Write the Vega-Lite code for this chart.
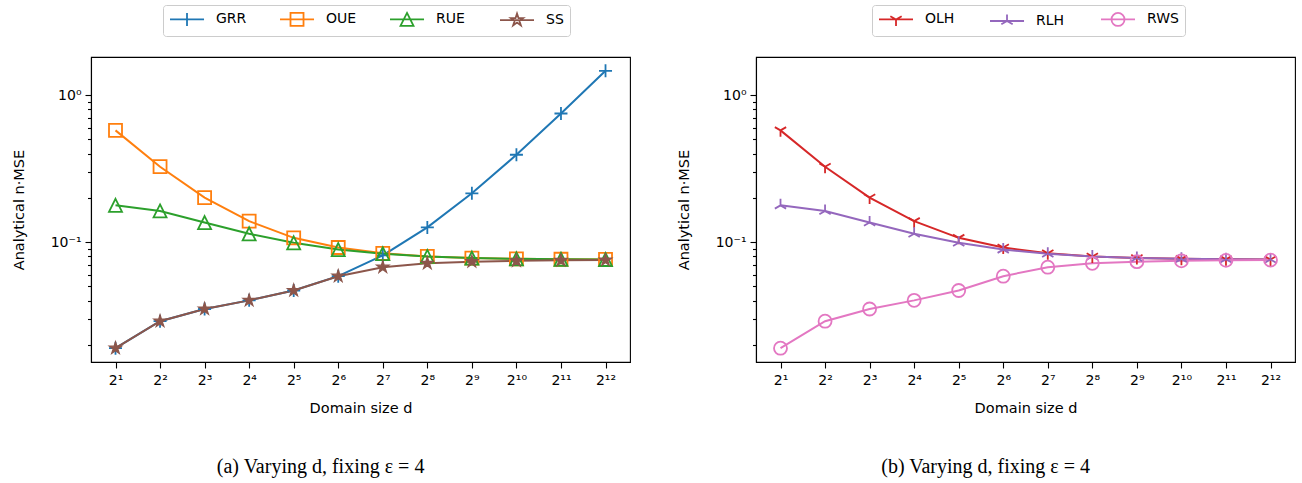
{
  "$schema": "https://vega.github.io/schema/vega-lite/v6.json",
  "padding": {"left": 10, "top": 3, "right": 5, "bottom": 5},
  "background": "white",
  "config": {
    "font": "DejaVu Sans",
    "view": {"stroke": "black", "strokeWidth": 1.1},
    "axis": {
      "domainColor": "black", "domainWidth": 1.1, "tickColor": "black", "tickWidth": 1.1,
      "labelColor": "black", "titleColor": "black", "labelFont": "DejaVu Sans", "titleFont": "DejaVu Sans",
      "labelFontSize": 14, "titleFontSize": 14.5, "titleFontWeight": "normal", "grid": false,
      "labelOverlap": false, "labelFlush": false
    }
  },
  "datasets": {
    "a": [
      {"s": "GRR", "d": 2, "v": 0.0190}, {"s": "GRR", "d": 4, "v": 0.0290}, {"s": "GRR", "d": 8, "v": 0.0351},
      {"s": "GRR", "d": 16, "v": 0.0402}, {"s": "GRR", "d": 32, "v": 0.0469}, {"s": "GRR", "d": 64, "v": 0.0587},
      {"s": "GRR", "d": 128, "v": 0.0812}, {"s": "GRR", "d": 256, "v": 0.126}, {"s": "GRR", "d": 512, "v": 0.215},
      {"s": "GRR", "d": 1024, "v": 0.393}, {"s": "GRR", "d": 2048, "v": 0.750}, {"s": "GRR", "d": 4096, "v": 1.463},
      {"s": "OUE", "d": 2, "v": 0.576}, {"s": "OUE", "d": 4, "v": 0.326}, {"s": "OUE", "d": 8, "v": 0.201},
      {"s": "OUE", "d": 16, "v": 0.139}, {"s": "OUE", "d": 32, "v": 0.107}, {"s": "OUE", "d": 64, "v": 0.092},
      {"s": "OUE", "d": 128, "v": 0.084}, {"s": "OUE", "d": 256, "v": 0.080}, {"s": "OUE", "d": 512, "v": 0.078},
      {"s": "OUE", "d": 1024, "v": 0.077}, {"s": "OUE", "d": 2048, "v": 0.0765}, {"s": "OUE", "d": 4096, "v": 0.0763},
      {"s": "RUE", "d": 2, "v": 0.178}, {"s": "RUE", "d": 4, "v": 0.163}, {"s": "RUE", "d": 8, "v": 0.136},
      {"s": "RUE", "d": 16, "v": 0.114}, {"s": "RUE", "d": 32, "v": 0.099}, {"s": "RUE", "d": 64, "v": 0.089},
      {"s": "RUE", "d": 128, "v": 0.0835}, {"s": "RUE", "d": 256, "v": 0.080}, {"s": "RUE", "d": 512, "v": 0.078},
      {"s": "RUE", "d": 1024, "v": 0.077}, {"s": "RUE", "d": 2048, "v": 0.0765}, {"s": "RUE", "d": 4096, "v": 0.0762},
      {"s": "SS", "d": 2, "v": 0.0190}, {"s": "SS", "d": 4, "v": 0.0290}, {"s": "SS", "d": 8, "v": 0.0351},
      {"s": "SS", "d": 16, "v": 0.0402}, {"s": "SS", "d": 32, "v": 0.0469}, {"s": "SS", "d": 64, "v": 0.0587},
      {"s": "SS", "d": 128, "v": 0.0676}, {"s": "SS", "d": 256, "v": 0.0718}, {"s": "SS", "d": 512, "v": 0.0737},
      {"s": "SS", "d": 1024, "v": 0.0747}, {"s": "SS", "d": 2048, "v": 0.0752}, {"s": "SS", "d": 4096, "v": 0.0755}
    ],
    "b": [
      {"s": "OLH", "d": 2, "v": 0.576}, {"s": "OLH", "d": 4, "v": 0.326}, {"s": "OLH", "d": 8, "v": 0.201},
      {"s": "OLH", "d": 16, "v": 0.139}, {"s": "OLH", "d": 32, "v": 0.107}, {"s": "OLH", "d": 64, "v": 0.092},
      {"s": "OLH", "d": 128, "v": 0.084}, {"s": "OLH", "d": 256, "v": 0.080}, {"s": "OLH", "d": 512, "v": 0.078},
      {"s": "OLH", "d": 1024, "v": 0.077}, {"s": "OLH", "d": 2048, "v": 0.0765}, {"s": "OLH", "d": 4096, "v": 0.0763},
      {"s": "RLH", "d": 2, "v": 0.178}, {"s": "RLH", "d": 4, "v": 0.163}, {"s": "RLH", "d": 8, "v": 0.136},
      {"s": "RLH", "d": 16, "v": 0.114}, {"s": "RLH", "d": 32, "v": 0.099}, {"s": "RLH", "d": 64, "v": 0.089},
      {"s": "RLH", "d": 128, "v": 0.0835}, {"s": "RLH", "d": 256, "v": 0.080}, {"s": "RLH", "d": 512, "v": 0.078},
      {"s": "RLH", "d": 1024, "v": 0.077}, {"s": "RLH", "d": 2048, "v": 0.0765}, {"s": "RLH", "d": 4096, "v": 0.0762},
      {"s": "RWS", "d": 2, "v": 0.0190}, {"s": "RWS", "d": 4, "v": 0.0290}, {"s": "RWS", "d": 8, "v": 0.0351},
      {"s": "RWS", "d": 16, "v": 0.0402}, {"s": "RWS", "d": 32, "v": 0.0469}, {"s": "RWS", "d": 64, "v": 0.0587},
      {"s": "RWS", "d": 128, "v": 0.0676}, {"s": "RWS", "d": 256, "v": 0.0718}, {"s": "RWS", "d": 512, "v": 0.0737},
      {"s": "RWS", "d": 1024, "v": 0.0747}, {"s": "RWS", "d": 2048, "v": 0.0752}, {"s": "RWS", "d": 4096, "v": 0.0755}
    ]
  },
  "spacing": 44,
  "resolve": {"scale": {"color": "independent", "shape": "independent"}},
  "hconcat": [
    {
      "width": 539, "height": 305,
      "data": {"name": "a"},
      "title": {"text": "(a) Varying d, fixing ε = 4", "orient": "bottom", "frame": "bounds", "font": "Liberation Serif", "fontSize": 20, "fontWeight": "normal", "color": "black", "anchor": "middle", "offset": 42},
      "encoding": {
        "x": {"field": "d", "type": "quantitative", "scale": {"type": "log", "base": 2, "domain": [1.366, 5995], "nice": false},
          "axis": {"title": "Domain size d", "values": [2,4,8,16,32,64,128,256,512,1024,2048,4096],
            "labelExpr": "'2' + ['⁰','¹','²','³','⁴','⁵','⁶','⁷','⁸','⁹','¹⁰','¹¹','¹²'][round(log(datum.value)/LN2)]",
            "tickSize": 6, "labelPadding": 5, "titlePadding": 14}},
        "y": {"field": "v", "type": "quantitative", "scale": {"type": "log", "domain": [0.01531, 1.817], "nice": false},
          "axis": {"title": "Analytical n·MSE", "values": [0.02,0.03,0.04,0.05,0.06,0.07,0.08,0.09,0.1,0.2,0.3,0.4,0.5,0.6,0.7,0.8,0.9,1],
            "labelExpr": "abs(datum.value - 1) < 1e-9 ? '10⁰' : abs(datum.value - 0.1) < 1e-9 ? '10⁻¹' : ''",
            "tickSize": {"condition": {"test": "abs(datum.value - 1) < 1e-9 || abs(datum.value - 0.1) < 1e-9", "value": 6}, "value": 3.5},
            "labelPadding": 4, "titlePadding": 24}}
      },
      "layer": [
        {"mark": {"type": "line", "strokeWidth": 2},
          "encoding": {"color": {"field": "s", "type": "nominal",
            "scale": {"domain": ["GRR", "OUE", "RUE", "SS"], "range": ["#1f77b4", "#ff7f0e", "#2ca02c", "#8c564b"]},
            "legend": {"orient": "none", "legendX": 72, "legendY": -52, "direction": "horizontal", "columns": 4, "title": null,
              "strokeColor": "#cccccc", "fillColor": "white", "cornerRadius": 3, "padding": 6,
              "symbolSize": 196, "symbolStrokeWidth": 1.8, "labelFontSize": 14, "labelColor": "black", "labelOffset": 31,
              "columnPadding": 29, "gridAlign": "all"}}}},
        {"transform": [{"filter": "false"}],
          "mark": {"type": "point", "filled": false, "size": 196, "strokeWidth": 1.8, "opacity": 1},
          "encoding": {
            "color": {"field": "s", "type": "nominal",
              "scale": {"domain": ["GRR", "OUE", "RUE", "SS"], "range": ["#1f77b4", "#ff7f0e", "#2ca02c", "#8c564b"]},
              "legend": {"orient": "none", "legendX": 72, "legendY": -52, "direction": "horizontal", "columns": 4, "title": null,
                "strokeColor": "#cccccc", "fillColor": "white", "cornerRadius": 3, "padding": 6,
                "symbolSize": 196, "symbolStrokeWidth": 1.8, "labelFontSize": 14, "labelColor": "black", "labelOffset": 31,
                "columnPadding": 29, "gridAlign": "all"}},
            "shape": {"field": "s", "type": "nominal",
              "scale": {"domain": ["GRR", "OUE", "RUE", "SS"], "range": [
                "M-1,0H3.86M1.43,-0.93V0.93",
                "M-1,0H3.86M0.5,-0.93H2.36V0.93H0.5Z",
                "M-1,0H3.86M1.43,-0.93L2.36,0.93H0.5Z",
                "M-1,0H3.86M1.43,-0.93L1.64,-0.29L2.31,-0.29L1.77,0.11L1.98,0.75L1.43,0.36L0.88,0.75L1.09,0.11L0.55,-0.29L1.22,-0.29Z"]},
              "legend": {"orient": "none", "legendX": 72, "legendY": -52, "direction": "horizontal", "columns": 4, "title": null,
                "strokeColor": "#cccccc", "fillColor": "white", "cornerRadius": 3, "padding": 6,
                "symbolSize": 196, "symbolStrokeWidth": 1.8, "labelFontSize": 14, "labelColor": "black", "labelOffset": 31,
                "columnPadding": 29, "gridAlign": "all"}},
            "fill": {"condition": {"test": "datum.s === 'SS'", "value": "#8c564b"}, "value": "transparent"}
          }},
        {"transform": [{"filter": "datum.s === 'GRR'"}],
          "mark": {"type": "point", "shape": "M-1,0H1M0,-1V1", "filled": false, "stroke": "#1f77b4", "fill": "transparent", "size": 169, "strokeWidth": 1.8, "opacity": 1}},
        {"transform": [{"filter": "datum.s === 'OUE'"}],
          "mark": {"type": "point", "shape": "M-1,-1H1V1H-1Z", "filled": false, "stroke": "#ff7f0e", "fill": "transparent", "size": 169, "strokeWidth": 1.8, "opacity": 1}},
        {"transform": [{"filter": "datum.s === 'RUE'"}],
          "mark": {"type": "point", "shape": "M0,-1L1,1H-1Z", "filled": false, "stroke": "#2ca02c", "fill": "transparent", "size": 169, "strokeWidth": 1.8, "opacity": 1}},
        {"transform": [{"filter": "datum.s === 'SS'"}],
          "mark": {"type": "point", "shape": "M0,-1L0.22,-0.31L0.95,-0.31L0.36,0.12L0.59,0.81L0,0.38L-0.59,0.81L-0.36,0.12L-0.95,-0.31L-0.22,-0.31Z", "filled": true, "fill": "#8c564b", "stroke": "#8c564b", "size": 169, "strokeWidth": 1.2, "opacity": 1}}
      ]
    },
    {
      "width": 539, "height": 305,
      "data": {"name": "b"},
      "title": {"text": "(b) Varying d, fixing ε = 4", "orient": "bottom", "frame": "bounds", "font": "Liberation Serif", "fontSize": 20, "fontWeight": "normal", "color": "black", "anchor": "middle", "offset": 42},
      "encoding": {
        "x": {"field": "d", "type": "quantitative", "scale": {"type": "log", "base": 2, "domain": [1.366, 5995], "nice": false},
          "axis": {"title": "Domain size d", "values": [2,4,8,16,32,64,128,256,512,1024,2048,4096],
            "labelExpr": "'2' + ['⁰','¹','²','³','⁴','⁵','⁶','⁷','⁸','⁹','¹⁰','¹¹','¹²'][round(log(datum.value)/LN2)]",
            "tickSize": 6, "labelPadding": 5, "titlePadding": 14}},
        "y": {"field": "v", "type": "quantitative", "scale": {"type": "log", "domain": [0.01531, 1.817], "nice": false},
          "axis": {"title": "Analytical n·MSE", "values": [0.02,0.03,0.04,0.05,0.06,0.07,0.08,0.09,0.1,0.2,0.3,0.4,0.5,0.6,0.7,0.8,0.9,1],
            "labelExpr": "abs(datum.value - 1) < 1e-9 ? '10⁰' : abs(datum.value - 0.1) < 1e-9 ? '10⁻¹' : ''",
            "tickSize": {"condition": {"test": "abs(datum.value - 1) < 1e-9 || abs(datum.value - 0.1) < 1e-9", "value": 6}, "value": 3.5},
            "labelPadding": 4, "titlePadding": 24}}
      },
      "layer": [
        {"mark": {"type": "line", "strokeWidth": 2},
          "encoding": {"color": {"field": "s", "type": "nominal",
            "scale": {"domain": ["OLH", "RLH", "RWS"], "range": ["#d62728", "#9467bd", "#e377c2"]},
            "legend": {"orient": "none", "legendX": 116, "legendY": -52, "direction": "horizontal", "columns": 3, "title": null,
              "strokeColor": "#cccccc", "fillColor": "white", "cornerRadius": 3, "padding": 6,
              "symbolSize": 196, "symbolStrokeWidth": 1.8, "labelFontSize": 14, "labelColor": "black", "labelOffset": 31,
              "columnPadding": 29, "gridAlign": "all"}}}},
        {"transform": [{"filter": "false"}],
          "mark": {"type": "point", "filled": false, "size": 196, "strokeWidth": 1.8, "opacity": 1},
          "encoding": {
            "color": {"field": "s", "type": "nominal",
              "scale": {"domain": ["OLH", "RLH", "RWS"], "range": ["#d62728", "#9467bd", "#e377c2"]},
              "legend": {"orient": "none", "legendX": 116, "legendY": -52, "direction": "horizontal", "columns": 3, "title": null,
                "strokeColor": "#cccccc", "fillColor": "white", "cornerRadius": 3, "padding": 6,
                "symbolSize": 196, "symbolStrokeWidth": 1.8, "labelFontSize": 14, "labelColor": "black", "labelOffset": 31,
                "columnPadding": 29, "gridAlign": "all"}},
            "shape": {"field": "s", "type": "nominal",
              "scale": {"domain": ["OLH", "RLH", "RWS"], "range": [
                "M-1,0H3.86M1.43,0V0.93M1.43,0L0.62,-0.47M1.43,0L2.24,-0.47",
                "M-1,0H3.86M1.43,0V-0.93M1.43,0L0.62,0.47M1.43,0L2.24,0.47",
                "M-1,0H3.86M2.36,0A0.93,0.93,0,1,1,0.5,0A0.93,0.93,0,1,1,2.36,0Z"]},
              "legend": {"orient": "none", "legendX": 116, "legendY": -52, "direction": "horizontal", "columns": 3, "title": null,
                "strokeColor": "#cccccc", "fillColor": "white", "cornerRadius": 3, "padding": 6,
                "symbolSize": 196, "symbolStrokeWidth": 1.8, "labelFontSize": 14, "labelColor": "black", "labelOffset": 31,
                "columnPadding": 29, "gridAlign": "all"}}
          }},
        {"transform": [{"filter": "datum.s === 'OLH'"}],
          "mark": {"type": "point", "shape": "M0,0V1M0,0L-0.87,-0.5M0,0L0.87,-0.5", "filled": false, "stroke": "#d62728", "fill": "transparent", "size": 169, "strokeWidth": 1.8, "opacity": 1}},
        {"transform": [{"filter": "datum.s === 'RLH'"}],
          "mark": {"type": "point", "shape": "M0,0V-1M0,0L-0.87,0.5M0,0L0.87,0.5", "filled": false, "stroke": "#9467bd", "fill": "transparent", "size": 169, "strokeWidth": 1.8, "opacity": 1}},
        {"transform": [{"filter": "datum.s === 'RWS'"}],
          "mark": {"type": "point", "shape": "circle", "filled": false, "stroke": "#e377c2", "fill": "transparent", "size": 169, "strokeWidth": 1.8, "opacity": 1}}
      ]
    }
  ]
}
